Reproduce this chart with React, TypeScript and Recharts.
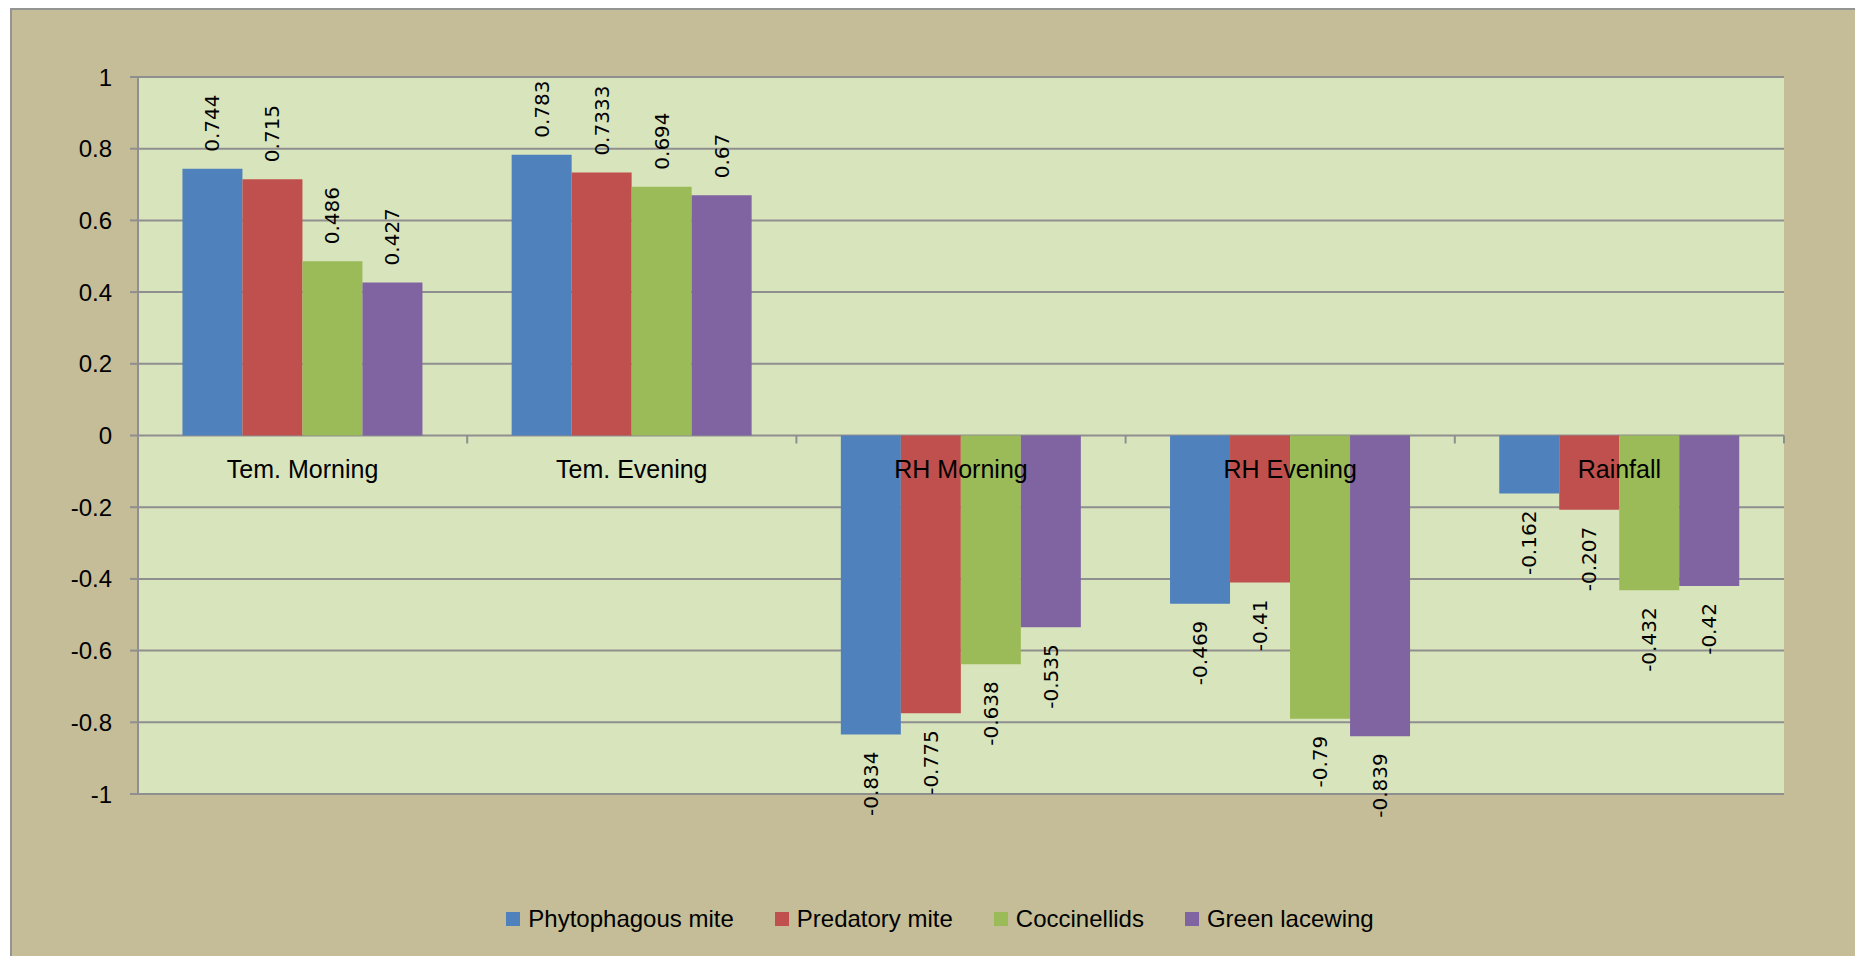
import { BarChart, Bar, XAxis, YAxis, CartesianGrid, LabelList } from "recharts";

// categories and series values
const CATEGORIES = ["Tem. Morning", "Tem. Evening", "RH Morning", "RH Evening", "Rainfall"];
const PHYTOPHAGOUS = [0.744, 0.783, -0.834, -0.469, -0.162];
const PREDATORY = [0.715, 0.7333, -0.775, -0.41, -0.207];
const COCCINELLIDS = [0.486, 0.694, -0.638, -0.79, -0.432];
const LACEWING = [0.427, 0.67, -0.535, -0.839, -0.42];
const Y_TICKS = [-1, -0.8, -0.6, -0.4, -0.2, 0, 0.2, 0.4, 0.6, 0.8, 1];

const SERIES = [
  { key: "phyto", name: "Phytophagous mite", values: PHYTOPHAGOUS, color: "#4F81BD" },
  { key: "pred", name: "Predatory mite", values: PREDATORY, color: "#C0504D" },
  { key: "cocc", name: "Coccinellids", values: COCCINELLIDS, color: "#9BBB59" },
  { key: "lace", name: "Green lacewing", values: LACEWING, color: "#8064A2" },
];

const data = CATEGORIES.map((cat, i) => {
  const row: Record<string, string | number> = { category: cat };
  SERIES.forEach((s) => {
    row[s.key] = s.values[i];
  });
  return row;
});

// layout
const W = 1855;
const H = 956;
const PLOT_LEFT = 138;
const PLOT_TOP = 77;
const PLOT_RIGHT = 1784;
const PLOT_BOTTOM = 794;
const X_AXIS_H = 30;
const PLOT_W = PLOT_RIGHT - PLOT_LEFT;
const PLOT_H = PLOT_BOTTOM - PLOT_TOP;
const Y_MIN = -1;
const Y_MAX = 1;
const ZERO_Y = PLOT_TOP + (PLOT_H * (Y_MAX - 0)) / (Y_MAX - Y_MIN);
const BAND = PLOT_W / CATEGORIES.length;

const GRID = "#8f8f8f";
const FONT = "'Liberation Sans', Arial, sans-serif";

function CategoryTick(props: any) {
  const { x, payload } = props;
  return (
    <g>
      <line x1={x + BAND / 2} x2={x + BAND / 2} y1={ZERO_Y} y2={ZERO_Y + 8} stroke={GRID} strokeWidth={2} />
      <text x={x} y={ZERO_Y + 42} textAnchor="middle" fontFamily={FONT} fontSize={25} fill="#000">
        {payload.value}
      </text>
    </g>
  );
}

function ValueLabel(props: any) {
  const { x, y, width, height, value } = props;
  const v = Number(value);
  const cx = Number(x) + Number(width) / 2;
  const top = Math.min(Number(y), Number(y) + Number(height));
  const bottom = Math.max(Number(y), Number(y) + Number(height));
  const py = v >= 0 ? top - 17 : bottom + 17;
  return (
    <text
      x={cx}
      y={py}
      transform={`rotate(-90 ${cx} ${py})`}
      textAnchor={v >= 0 ? "start" : "end"}
      dominantBaseline="central"
      fontFamily="'DejaVu Sans', sans-serif"
      fontSize={20}
      fill="#000"
    >
      {String(value)}
    </text>
  );
}

export default function App() {
  return (
    <div style={{ position: "fixed", left: 0, top: 0, width: W, height: H, background: "#fff", overflow: "hidden" }}>
      <div
        style={{
          position: "absolute",
          left: 10,
          top: 8,
          width: 1900,
          height: 1000,
          background: "#C4BD97",
          borderTop: "2px solid #949494",
          borderLeft: "2px solid #949494",
        }}
      />
      <div style={{ position: "absolute", left: 0, top: 0 }}>
        <BarChart
          width={W}
          height={H}
          data={data}
          margin={{ top: PLOT_TOP, right: W - PLOT_RIGHT, left: 0, bottom: H - PLOT_BOTTOM - X_AXIS_H }}
          barCategoryGap="13.5%"
          barGap={0}
        >
          <CartesianGrid vertical={false} stroke={GRID} strokeWidth={2} fill="#D8E4BC" fillOpacity={1} />
          <YAxis
            width={PLOT_LEFT}
            domain={[Y_MIN, Y_MAX]}
            ticks={Y_TICKS}
            allowDataOverflow
            tickFormatter={(v: number) => String(Math.round(v * 10) / 10)}
            tick={{ fontFamily: FONT, fontSize: 24, fill: "#000" }}
            tickSize={8}
            tickMargin={18}
            axisLine={{ stroke: GRID, strokeWidth: 2 }}
            tickLine={{ stroke: GRID, strokeWidth: 2 }}
          />
          {SERIES.map((s) => (
            <Bar key={s.key} dataKey={s.key} name={s.name} fill={s.color} isAnimationActive={false}>
              <LabelList dataKey={s.key} content={ValueLabel} />
            </Bar>
          ))}
          <XAxis
            dataKey="category"
            height={X_AXIS_H}
            axisLine={false}
            tickLine={false}
            interval={0}
            tick={CategoryTick}
          />
        </BarChart>
      </div>
      <div
        style={{
          position: "absolute",
          left: 0,
          top: 907,
          width: 1880,
          display: "flex",
          justifyContent: "center",
          alignItems: "center",
          gap: 41,
          fontFamily: FONT,
          fontSize: 24,
          lineHeight: "24px",
          color: "#000",
        }}
      >
        {SERIES.map((s) => (
          <div key={s.key} style={{ display: "flex", alignItems: "center" }}>
            <span style={{ display: "inline-block", width: 14, height: 14, background: s.color, marginRight: 8 }} />
            <span>{s.name}</span>
          </div>
        ))}
      </div>
    </div>
  );
}
